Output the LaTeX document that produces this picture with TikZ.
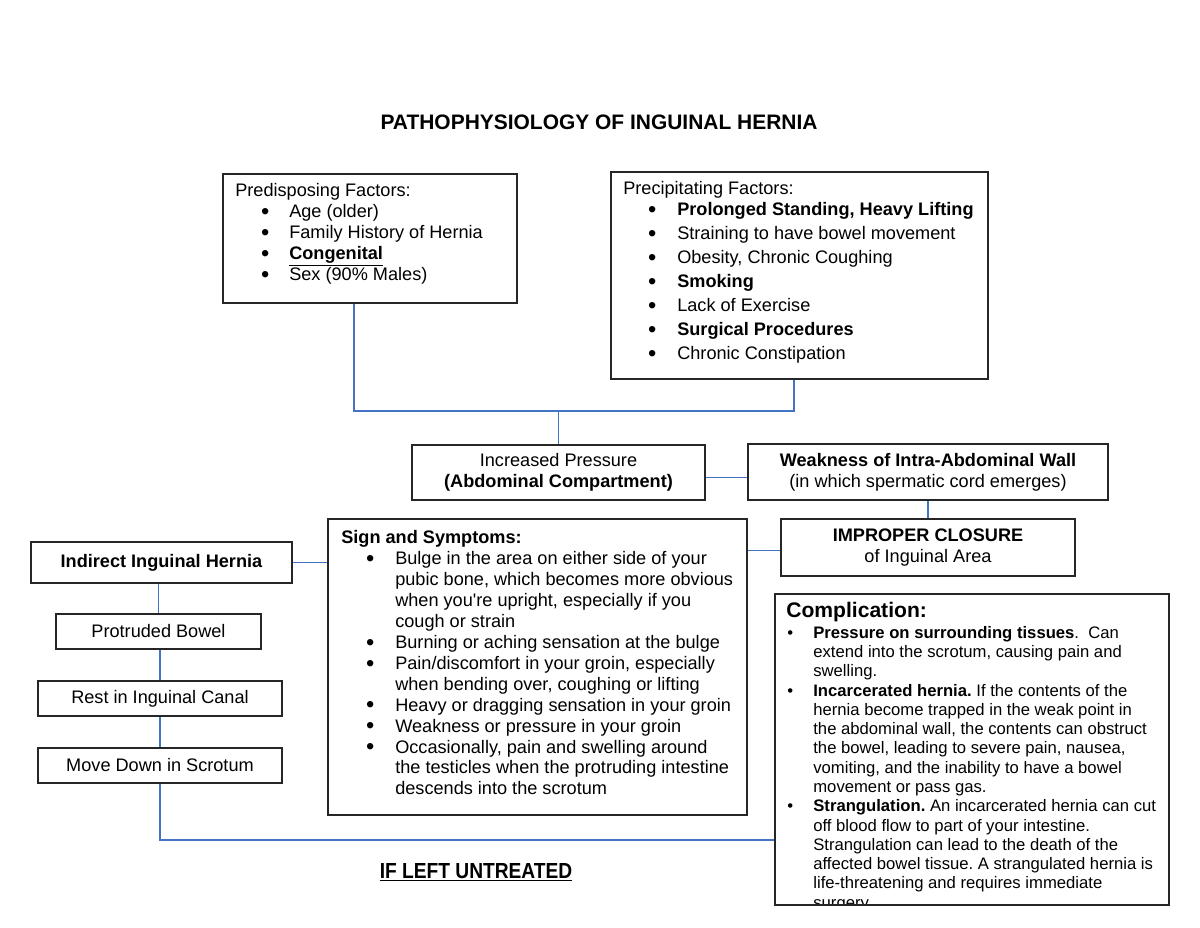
\documentclass[tikz,border=0pt]{standalone}
\usepackage{fontspec}
\usepackage{graphicx}
\setmainfont{Liberation Sans}
\frenchspacing

\definecolor{linkblue}{RGB}{68,114,196}

\newlength{\bind}
\newlength{\bgap}
\newcommand{\bdot}{\textbullet}
\newcommand{\bigdot}{\raisebox{-0.1em}{\scalebox{1.3}{\textbullet}}}
\newcommand{\bitem}[1]{\hspace*{\bind}\makebox[0pt]{\bdot}\hspace*{\bgap}#1}
\newcommand{\bcont}[1]{\hspace*{\bind}\hspace*{\bgap}#1}

\tikzset{
    box/.style={draw=black!85, line width=0.9pt, inner sep=0pt, align=center},
    link/.style={draw=linkblue, line width=0.9pt},
    boxtext/.style={inner sep=0pt, anchor=base west},
}

\begin{document}
\begin{tikzpicture}[x=0.025cm, y=-0.025cm, font=\fontsize{12.9}{14.9}\selectfont]

    % constants
    \def\leftx{160}
    \def\joiny{411}
    \def\bottomy{840}

    \useasboundingbox (0,0) rectangle (1200,927);

    \node [font=\fontsize{14.9}{17}\selectfont\bfseries] (title) at (599,122) {PATHOPHYSIOLOGY OF INGUINAL HERNIA};

    % factors
    \node [box, minimum width=7.35cm, minimum height=3.225cm] (predisp) at (370,238.5) {};
    \node [boxtext] (predisptxt) at (235,196.5) {\setlength{\bind}{21.3pt}\setlength{\bgap}{17.1pt}%
        \let\bdot\bigdot
        \begin{tabular}[t]{@{}l@{}}
        Predisposing Factors:\\
        \bitem{Age (older)}\\
        \bitem{Family History of Hernia}\\
        \bitem{\underline{\textbf{Congenital}}}\\
        \bitem{Sex (90\% Males)}
        \end{tabular}};

    \node [box, minimum width=9.425cm, minimum height=5.175cm] (precip) at (799.5,275.5) {};
    \node [boxtext] (preciptxt) at (623,194.5) {\setlength{\bind}{20.6pt}\setlength{\bgap}{17.8pt}%
        \let\bdot\bigdot
        \begin{tabular}[t]{@{}l@{}}
        Precipitating Factors:\\
        \bitem{\textbf{Prolonged Standing, Heavy Lifting}}\\[2.17pt]
        \bitem{Straining to have bowel movement}\\[2.17pt]
        \bitem{Obesity, Chronic Coughing}\\[2.17pt]
        \bitem{\textbf{Smoking}}\\[2.17pt]
        \bitem{Lack of Exercise}\\[2.17pt]
        \bitem{\textbf{Surgical Procedures}}\\[2.17pt]
        \bitem{Chronic Constipation}
        \end{tabular}};

    % middle row
    \node [box, minimum width=7.325cm, minimum height=1.375cm] (incpress) at (558.5,472.5) {Increased Pressure\\\textbf{(Abdominal Compartment)}};
    \node [box, minimum width=9cm, minimum height=1.4cm] (weak) at (928,472) {\textbf{Weakness of Intra-Abdominal Wall}\\(in which spermatic cord emerges)};
    \node [box, minimum width=7.35cm, minimum height=1.425cm] (improper) at (928,547.5) {\textbf{IMPROPER CLOSURE}\\of Inguinal Area};

    % signs and symptoms
    \node [box, minimum width=10.475cm, minimum height=7.4cm] (signs) at (537.5,667) {};
    \node [boxtext] (signstxt) at (341,543.5) {\setlength{\bind}{20.6pt}\setlength{\bgap}{17.8pt}%
        \let\bdot\bigdot
        \begin{tabular}[t]{@{}l@{}}
        \textbf{Sign and Symptoms:}\\
        \bitem{Bulge in the area on either side of your}\\
        \bcont{pubic bone, which becomes more obvious}\\
        \bcont{when you\textquotesingle re upright, especially if you}\\
        \bcont{cough or strain}\\
        \bitem{Burning or aching sensation at the bulge}\\
        \bitem{Pain/discomfort in your groin, especially}\\
        \bcont{when bending over, coughing or lifting}\\
        \bitem{Heavy or dragging sensation in your groin}\\
        \bitem{Weakness or pressure in your groin}\\
        \bitem{Occasionally, pain and swelling around}\\
        \bcont{the testicles when the protruding intestine}\\
        \bcont{descends into the scrotum}
        \end{tabular}};

    % left column
    \node [box, minimum width=6.525cm, minimum height=1.025cm] (indirect) at (161.5,562.5) {\textbf{Indirect Inguinal Hernia}};
    \node [box, minimum width=5.125cm, minimum height=0.875cm] (protruded) at (158.5,631.5) {Protruded Bowel};
    \node [box, minimum width=6.1cm, minimum height=0.875cm] (rest) at (\leftx,698.5) {Rest in Inguinal Canal};
    \node [box, minimum width=6.1cm, minimum height=0.875cm] (movedown) at (\leftx,765.5) {Move Down in Scrotum};

    % complication
    \node [box, minimum width=9.85cm, minimum height=7.775cm] (complic) at (972,749.5) {};
    \begin{scope}
        \clip (complic.north west) rectangle ([shift={(0,-2)}]complic.south east);
        \node [boxtext] (complictxt) at (786,617) {\fontsize{11.85}{13.7}\selectfont
            \setlength{\bind}{2.85pt}\setlength{\bgap}{16.4pt}%
            \begin{tabular}[t]{@{}l@{}}
            {\fontsize{15}{17}\selectfont\bfseries Complication:}\\[1.5pt]
            \bitem{\textbf{Pressure on surrounding tissues}.\ \ Can}\\
            \bcont{extend into the scrotum, causing pain and}\\
            \bcont{swelling.}\\
            \bitem{\textbf{Incarcerated hernia.} If the contents of the}\\
            \bcont{hernia become trapped in the weak point in}\\
            \bcont{the abdominal wall, the contents can obstruct}\\
            \bcont{the bowel, leading to severe pain, nausea,}\\
            \bcont{vomiting, and the inability to have a bowel}\\
            \bcont{movement or pass gas.}\\
            \bitem{\textbf{Strangulation.} An incarcerated hernia can cut}\\
            \bcont{off blood flow to part of your intestine.}\\
            \bcont{Strangulation can lead to the death of the}\\
            \bcont{affected bowel tissue. A strangulated hernia is}\\
            \bcont{life-threatening and requires immediate}\\
            \bcont{surgery.}
            \end{tabular}};
    \end{scope}

    \node [font=\fontsize{15.5}{18}\selectfont\bfseries] (untreated) at (476,872) {\scalebox{0.88}[1]{\underline{IF LEFT UNTREATED}}};

    % connectors
    \coordinate (jl) at (354,\joiny);
    \coordinate (jr) at (794,\joiny);
    \draw [link] (predisp.south -| jl) -- (jl) -- (jr) -- (precip.south -| jr);
    \draw [link] (incpress.north) -- (incpress.north |- jl);
    \draw [link] ([shift={(0,5)}]incpress.east) -- ([shift={(0,5)}]incpress.east -| weak.west);
    \draw [link] (weak.south) -- (improper.north);
    \draw [link] ([shift={(0,3)}]improper.west) -- ([shift={(0,3)}]improper.west -| signs.east);
    \draw [link] (indirect.east) -- (indirect.east -| signs.west);
    \draw [link] (protruded.north) -- (protruded.north |- indirect.south);
    \draw [link] (rest.north) -- (rest.north |- protruded.south);
    \draw [link] (movedown.north) -- (movedown.north |- rest.south);
    \coordinate (bend) at (\leftx,\bottomy);
    \draw [link] (movedown.south) -- (bend) -- (bend -| complic.west);

\end{tikzpicture}
\end{document}
